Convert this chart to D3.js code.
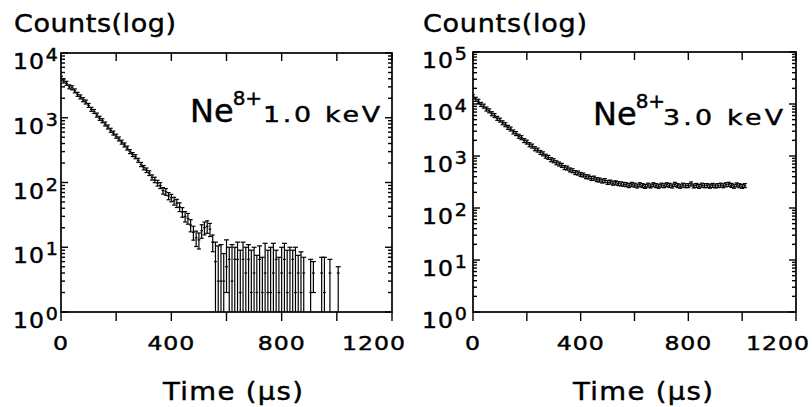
<!DOCTYPE html>
<html><head><meta charset="utf-8">
<script src="https://cdn.jsdelivr.net/npm/d3@7"></script>
<style>body{margin:0;background:#fff}svg{display:block}text{font-family:"DejaVu Sans",sans-serif;fill:#000;stroke:#000;stroke-width:0.45px}</style>
</head><body>
<svg id="c" width="812" height="407"></svg>
<script>
// ---- data ----
const xTicks = [0, 200, 400, 600, 800, 1000, 1200];
const xTickLabels = [0, 400, 800, 1200];
const leftDecades = [0, 1, 2, 3, 4];
const rightDecades = [0, 1, 2, 3, 4, 5];

const leftTime = [0,10,20,30,40,50,60,70,80,90,100,110,120,130,140,150,160,170,180,190,200,210,220,230,240,250,260,270,280,290,300,310,320,330,340,350,360,370,380,390,400,410,420,430,440,450,460,470,480,490,500,510,520,530,540,550];
const leftCounts = [4100,3700,3400,3000,2900,2600,2300,2100,1900,1750,1550,1350,1250,1100,980,900,800,720,640,580,520,470,420,380,340,300,270,250,220,190,170,155,140,120,110,98,90,75,72,62,58,52,48,42,35,30,28,22,17,14,13,18,20,21,19,12];

const leftTailTime  = [560,570,580,590,600,610,620,630,640,650,660,670,680,690,700,710,720,730,740,750,760,770,780,790,800,810,820,830,840,850,860,870,880,905,915,945,955,975,1005];
const leftTailCounts= [6,3,3,3,5,6.5,3,6.5,6.5,2,6.5,4,6.5,2,4,2,6.5,2,4,2,2,4,6.5,2,4,6.5,2,4,6.5,2,4,2,4,2,4,4,2,4,4];
const leftTailHigh  = [12,10.5,11,8,13,10,11,10,12,9,12,10,11,9,10,7.5,10.5,7,11.5,9,10,11.5,9,7,10,11.5,9,10,9,10,7.5,8.5,7,6.5,6,7,7,6.5,5];
const leftTailLow   = [1,1,1,1,2,1,1,1,1,1,1,1,1,1,1,1,1,1,1,1,1,1,1,1,1,1,1,1,1,1,1,1,1,1,2,1,1,1,1];

const rightTime = [0,10,20,30,40,50,60,70,80,90,100,110,120,130,140,150,160,170,180,190,200,210,220,230,240,250,260,270,280,290,300,310,320,330,340,350,360,370,380,390,400,410,420,430,440,450,460,470,480,490,500,510,520,530,540,550,560,570,580,590,600,610,620,630,640,650,660,670,680,690,700,710,720,730,740,750,760,770,780,790,800,810,820,830,840,850,860,870,880,890,900,910,920,930,940,950,960,970,980,990,1000,1010];
const rightCounts = [13800,12300,11300,9800,9100,8000,7400,6500,6000,5300,4900,4350,4000,3550,3300,2900,2700,2400,2250,1980,1850,1650,1550,1380,1300,1170,1100,990,940,850,810,740,700,660,600,585,540,520,480,470,440,430,400,395,370,375,350,345,330,335,310,315,300,305,295,290,285,
  280,270,285,275,265,280,270,260,275,265,280,270,262,275,268,280,272,265,285,270,262,275,268,270,290,265,272,260,275,268,270,262,272,265,270,275,268,280,285,272,262,278,268,260,270];

const svg = d3.select("#c");

// text placed at (x,y), widened horizontally by sx
function wtext(parent, x, y, sx, size) {
  return parent.append("text")
    .attr("transform", `translate(${x},${y}) scale(${sx},1)`)
    .attr("font-size", size);
}

function drawPanel(cfg) {
  const x = d3.scaleLinear().domain([0, 1200]).range([cfg.x0, cfg.x1]);
  const y = d3.scaleLog().domain([1, Math.pow(10, cfg.decades[cfg.decades.length - 1])]).range([cfg.y0, cfg.y1]);
  const g = svg.append("g");
  const [xa, xb] = x.range();
  const [yb, ya] = y.range();

  const cid = "clip" + cfg.id;
  svg.append("clipPath").attr("id", cid).append("rect")
    .attr("x", xa).attr("y", ya).attr("width", xb - xa).attr("height", yb - ya);
  const dg = g.append("g").attr("clip-path", `url(#${cid})`)
    .attr("stroke", "#000").attr("stroke-width", 1.2).attr("fill", "none");

  g.append("rect").attr("x", xa).attr("y", ya).attr("width", xb - xa).attr("height", yb - ya)
    .attr("fill", "none").attr("stroke", "#000").attr("stroke-width", 1.7);

  const tk = g.append("g").attr("stroke", "#000").attr("stroke-width", 1.4);
  xTicks.forEach(t => {
    tk.append("line").attr("x1", x(t)).attr("x2", x(t)).attr("y1", ya).attr("y2", ya + 8);
    tk.append("line").attr("x1", x(t)).attr("x2", x(t)).attr("y1", yb).attr("y2", yb + 9);
  });
  const decs = cfg.decades;
  for (let i = 0; i < decs.length; i++) {
    const d = decs[i];
    const mults = i < decs.length - 1 ? [1,2,3,4,5,6,7,8,9] : [1];
    mults.forEach(m => {
      const v = m * Math.pow(10, d);
      const len = m === 1 ? 7 : 4;
      tk.append("line").attr("x1", xa).attr("x2", xa + len).attr("y1", y(v)).attr("y2", y(v));
      tk.append("line").attr("x1", xb).attr("x2", xb - len).attr("y1", y(v)).attr("y2", y(v));
    });
  }

  xTickLabels.forEach(t => {
    wtext(g, x(t) + (t === 1200 ? -18 : 0), 350, 1.18, 20)
      .attr("text-anchor", "middle").attr("letter-spacing", 0.8).text(t);
  });
  decs.forEach(d => {
    const ty = y(Math.pow(10, d));
    const t = wtext(g, xa + cfg.ylabOff, ty + 16, 1.12, 21);
    t.append("tspan").attr("letter-spacing", 1).text("10");
    t.append("tspan").attr("font-size", 17).attr("dy", -8).attr("dx", 0.5).text(d);
  });

  wtext(g, cfg.cx, 32, 1.08, 25)
    .attr("textLength", cfg.cw / 1.08).attr("lengthAdjust", "spacing").text("Counts(log)");
  wtext(g, cfg.tx, 400, 1.1, 25)
    .attr("textLength", 140 / 1.1).attr("lengthAdjust", "spacing").text("Time (\u00b5s)");

  const a = g.append("text").attr("x", cfg.ax).attr("y", cfg.ay);
  a.append("tspan").attr("font-size", 32).text("Ne");
  a.append("tspan").attr("font-size", 20).attr("dy", -17).attr("dx", -1).text("8+");
  wtext(g, cfg.kx, cfg.ay, 1.22, 22)
    .attr("textLength", cfg.kw / 1.22).attr("lengthAdjust", "spacing").text(cfg.energy);

  return { x, y, dg };
}

function drawPoints(p, times, counts) {
  const n = Math.min(times.length, counts.length);
  for (let i = 0; i < n; i++) {
    const t = times[i], v = counts[i];
    const e = Math.sqrt(v);
    const cx = p.x(t), cy = p.y(v);
    let yt = p.y(v + e), yl = p.y(Math.max(v - e, 1));
    if (cy - yt < 2) yt = cy - 2;
    if (yl - cy < 2) yl = cy + 2;
    p.dg.append("line").attr("x1", p.x(t - 5)).attr("x2", p.x(t + 5)).attr("y1", cy).attr("y2", cy);
    p.dg.append("line").attr("x1", cx).attr("x2", cx).attr("y1", yt).attr("y2", yl);
    p.dg.append("line").attr("x1", cx - 2).attr("x2", cx + 2).attr("y1", yt).attr("y2", yt);
    p.dg.append("line").attr("x1", cx - 2).attr("x2", cx + 2).attr("y1", yl).attr("y2", yl);
  }
}

function drawTail(p, times, counts, hi, lo) {
  const n = Math.min(times.length, counts.length, hi.length, lo.length);
  for (let i = 0; i < n; i++) {
    const t = times[i];
    const cx = p.x(t), cy = p.y(counts[i]);
    const yt = p.y(hi[i]), yl = p.y(Math.max(lo[i], 1));
    p.dg.append("line").attr("x1", p.x(t - 5)).attr("x2", p.x(t + 5)).attr("y1", cy).attr("y2", cy);
    p.dg.append("line").attr("x1", cx).attr("x2", cx).attr("y1", yt).attr("y2", yl);
    p.dg.append("line").attr("x1", cx - 2.5).attr("x2", cx + 2.5).attr("y1", yt).attr("y2", yt);
    if (lo[i] > 1) p.dg.append("line").attr("x1", cx - 2.5).attr("x2", cx + 2.5).attr("y1", yl).attr("y2", yl);
  }
}

const L = drawPanel({ id: "L", x0: 61, x1: 392, y0: 312, y1: 53, decades: leftDecades, ylabOff: -48,
  cx: 14, cw: 162, tx: 163, ax: 190, ay: 122, kx: 263, kw: 117, energy: "1.0 keV" });
drawPoints(L, leftTime, leftCounts);
drawTail(L, leftTailTime, leftTailCounts, leftTailHigh, leftTailLow);

const R = drawPanel({ id: "R", x0: 473, x1: 796, y0: 312, y1: 52, decades: rightDecades, ylabOff: -51,
  cx: 423, cw: 164, tx: 573, ax: 593, ay: 125, kx: 663, kw: 120, energy: "3.0 keV" });
drawPoints(R, rightTime, rightCounts);
</script>
</body></html>
